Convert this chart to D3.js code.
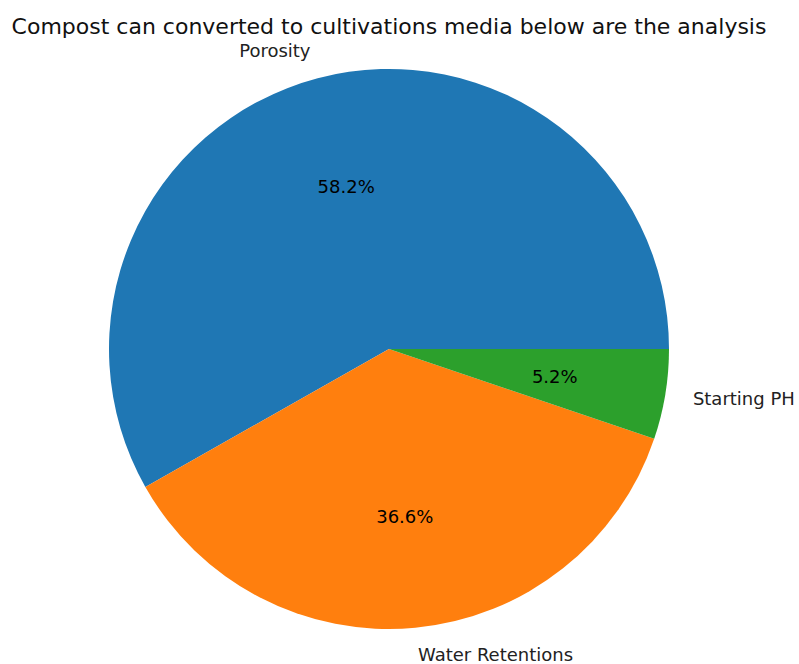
<!DOCTYPE html>
<meta charset="utf-8">
<style>
  body { margin: 0; background: #fff; }
  svg { display: block; }
</style>
<svg width="799" height="664" font-family="DejaVu Sans, sans-serif"></svg>
<script src="https://d3js.org/d3.v7.min.js"></script>
<script>

var labels = ["Porosity", "Water Retentions", "Starting PH"];
var values = [58.2, 36.6, 5.2];
var colors = ["#1f77b4", "#ff7f0e", "#2ca02c"];
var title = "Compost can converted to cultivations media below are the analysis";

var svg = d3.select("svg"),
    cx = 389,
    cy = 349,
    radius = 280;

var data = labels.map(function(d, i) { return {label: d, value: values[i], color: colors[i]}; });

// matplotlib style: start at 3 o'clock, go counter-clockwise
var pie = d3.pie()
    .value(function(d) { return d.value; })
    .sort(null)
    .startAngle(Math.PI / 2)
    .endAngle(Math.PI / 2 - 2 * Math.PI);

var arc = d3.arc().innerRadius(0).outerRadius(radius);

var g = svg.append("g").attr("transform", "translate(" + cx + "," + cy + ")");
var arcs = pie(data);

g.selectAll("path")
  .data(arcs)
  .enter().append("path")
    .attr("d", arc)
    .attr("fill", function(d) { return d.data.color; });

function mid(d) { return (d.startAngle + d.endAngle) / 2; }

// d3 angle: 0 at 12 o'clock, clockwise. x = sin, y = -cos
g.selectAll("text.pct")
  .data(arcs)
  .enter().append("text")
    .attr("class", "pct")
    .attr("x", function(d) { return 0.6 * radius * Math.sin(mid(d)); })
    .attr("y", function(d) { return -0.6 * radius * Math.cos(mid(d)); })
    .attr("dy", "0.35em")
    .attr("text-anchor", "middle")
    .attr("font-size", 18)
    .attr("fill", "#000")
    .text(function(d) { return d.data.value.toFixed(1) + "%"; });

g.selectAll("text.lbl")
  .data(arcs)
  .enter().append("text")
    .attr("class", "lbl")
    .attr("x", function(d) { return 1.1 * radius * Math.sin(mid(d)); })
    .attr("y", function(d) { return -1.1 * radius * Math.cos(mid(d)); })
    .attr("dy", "0.32em")
    .attr("text-anchor", function(d) { return Math.sin(mid(d)) < 0 ? "end" : "start"; })
    .attr("font-size", 18)
    .attr("fill", "#222")
    .text(function(d) { return d.data.label; });

svg.append("text")
    .attr("x", 389)
    .attr("y", 34)
    .attr("text-anchor", "middle")
    .attr("font-size", 22)
    .attr("fill", "#111")
    .text(title);

</script>
